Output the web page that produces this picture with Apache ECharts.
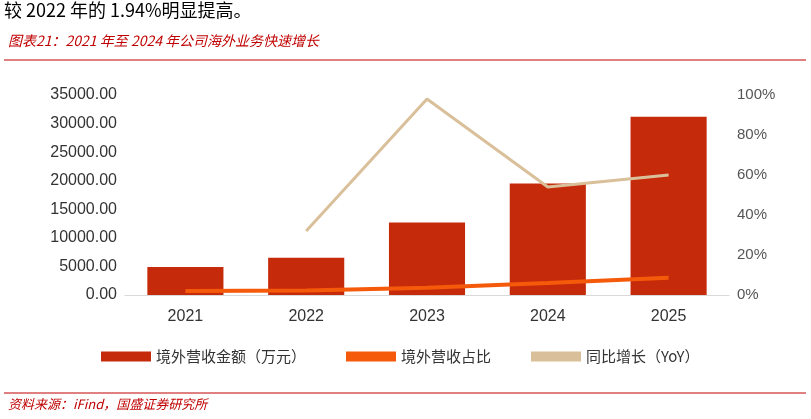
<!DOCTYPE html><html><head><meta charset="utf-8"><script src="https://cdn.jsdelivr.net/npm/echarts@6/dist/echarts.min.js"></script>
<style>body{margin:0;background:#fff}#c{width:811px;height:419px}</style></head><body><div id="c"></div><script>
const categories=['2021','2022','2023','2024','2025'];
const revenue=[4900,6500,12700,19500,31200];
const share=[2.0,2.2,3.6,6.0,8.6];
const yoy=[null,32,98,54,60];
const leftTicks=[0,5000,10000,15000,20000,25000,30000,35000];
const c=echarts.init(document.getElementById('c'));
const ff='"Microsoft YaHei","Noto Sans CJK SC",sans-serif';
c.setOption({
graphic:[
{type:'text',left:4,top:1,style:{text:'较 2022 年的 1.94%明显提高。',font:'18px '+ff,fill:'#000'}},
{type:'text',left:8,top:34,style:{text:'图表21：2021 年至 2024 年公司海外业务快速增长',font:'italic 14px '+ff,fill:'#c00000'}},
{type:'line',shape:{x1:4,y1:60,x2:806,y2:60},style:{stroke:'#c00000',lineWidth:1}},
{type:'line',shape:{x1:4,y1:393,x2:806,y2:393},style:{stroke:'#c00000',lineWidth:1}},
{type:'text',left:8,top:398,style:{text:'资料来源：iFind，国盛证券研究所',font:'italic 13px '+ff,fill:'#c00000'}}
],
grid:{left:125,right:82,top:95,bottom:124},
legend:{bottom:50,left:96,itemGap:40,textStyle:{fontSize:15,color:'#333',fontFamily:ff},
data:[{name:'境外营收金额（万元）',icon:'rect'},{name:'境外营收占比',icon:'rect'},{name:'同比增长（YoY）',icon:'rect'}],itemWidth:50,itemHeight:10},
xAxis:{type:'category',data:categories,axisTick:{show:false},axisLine:{lineStyle:{color:'#d9d9d9'}},axisLabel:{fontSize:16,color:'#333',margin:14}},
yAxis:[{type:'value',min:0,max:35000,interval:5000,splitLine:{show:false},axisLabel:{fontSize:16,color:'#333',formatter:v=>v.toFixed(2)}},
{type:'value',min:0,max:100,interval:20,splitLine:{show:false},axisLabel:{fontSize:15,color:'#555',formatter:'{value}%'}}],
series:[
{name:'境外营收金额（万元）',type:'bar',data:revenue,barWidth:'63%',itemStyle:{color:'#c52a0a'}},
{name:'境外营收占比',type:'line',yAxisIndex:1,data:share,symbol:'none',lineStyle:{width:4,color:'#f55a0a'},itemStyle:{color:'#f55a0a'}},
{name:'同比增长（YoY）',type:'line',yAxisIndex:1,data:yoy,symbol:'none',lineStyle:{width:3,color:'#d9c09a'},itemStyle:{color:'#d9c09a'}}
]});
</script></body></html>
